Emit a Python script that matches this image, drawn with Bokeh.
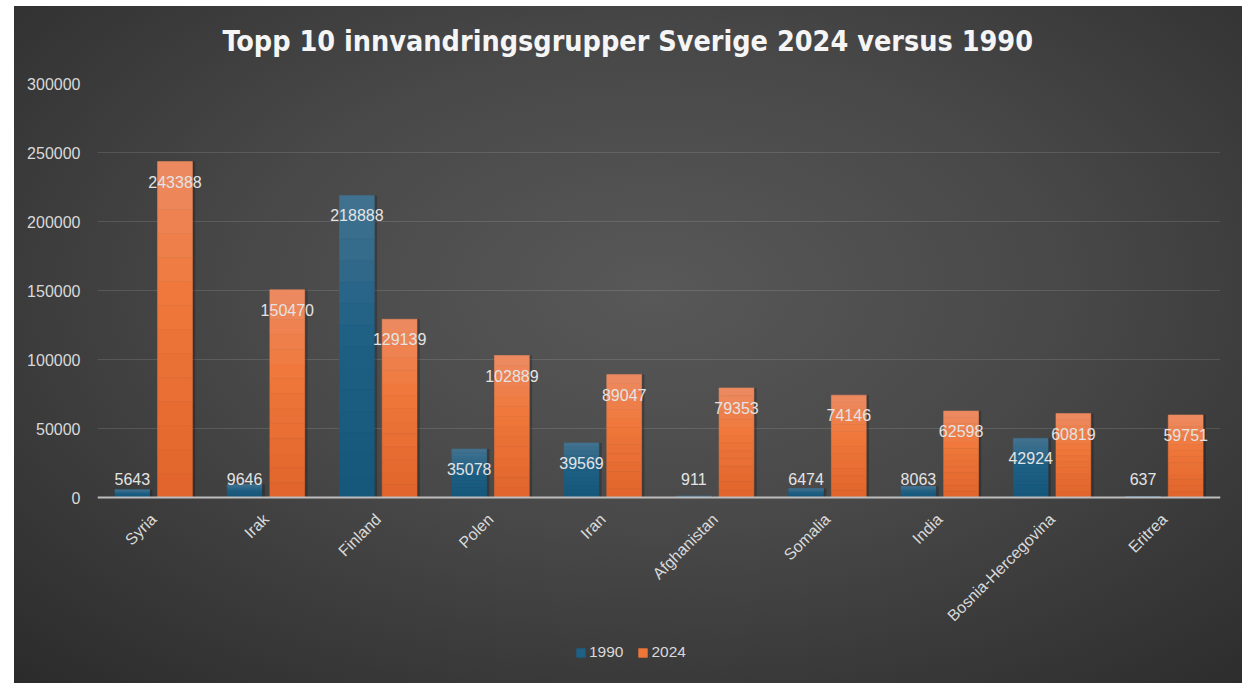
import numpy as np
from bokeh.plotting import figure
from bokeh.models import (ColumnDataSource, FactorRange, Legend, LegendItem,
                          FixedTicker, InlineStyleSheet, Span)
from bokeh.transform import dodge
from bokeh.core.properties import value
from bokeh.embed import file_html
from bokeh.resources import INLINE

categories = ["Syria", "Irak", "Finland", "Polen", "Iran", "Afghanistan",
              "Somalia", "India", "Bosnia-Hercegovina", "Eritrea"]
values_1990 = [5643, 9646, 218888, 35078, 39569, 911, 6474, 8063, 42924, 637]
values_2024 = [243388, 150470, 129139, 102889, 89047, 79353, 74146, 62598, 60819, 59751]
series_names = ["1990", "2024"]
y_ticks = [0, 50000, 100000, 150000, 200000, 250000, 300000]
title_text = "Topp 10 innvandringsgrupper Sverige 2024 versus 1990"

Y_MAX = 300000
PLOT_H = 414          # pixels from 0 to Y_MAX
FRAME_H = 597         # frame extends below zero to hold labels and legend
PX = Y_MAX / PLOT_H   # data units per pixel

p = figure(x_range=FactorRange(*categories), y_range=(-(FRAME_H - PLOT_H) * PX, Y_MAX),
           width=1253, height=692, output_backend="svg", toolbar_location=None,
           min_border_left=97, min_border_right=33, min_border_top=83,
           min_border_bottom=12)
p.frame_width = 1123
p.frame_height = FRAME_H
p.background_fill_color = None
p.border_fill_color = None
p.outline_line_color = None
p.stylesheets = [InlineStyleSheet(css=(
    ":host { background-color: #ffffff;"
    " background-image: radial-gradient(ellipse 75% 80% at 52% 42%, #585858 0%, #484848 45%, #2b2b2b 100%);"
    " background-size: 1228px 677px; background-position: 14px 6px; background-repeat: no-repeat; }"))]

p.title.text = title_text
p.title.align = "left"
p.title.offset = 125
p.title.vertical_align = "top"
p.title.standoff = 47
p.title.text_color = "#f5f5f5"
p.title.text_font = "DejaVu Sans Condensed"
p.title.text_font_style = "bold"
p.title.text_font_size = "28.5px"


def hex2rgb(h):
    h = h.lstrip("#")
    return np.array([int(h[i:i + 2], 16) for i in (0, 2, 4)], dtype=float)


def grad(stops, t):
    for (t0, c0), (t1, c1) in zip(stops[:-1], stops[1:]):
        if t0 <= t <= t1:
            f = (t - t0) / (t1 - t0) if t1 > t0 else 0
            c = hex2rgb(c0) * (1 - f) + hex2rgb(c1) * f
            return "#%02x%02x%02x" % tuple(int(round(x)) for x in c)
    return stops[-1][1]


blue_stops = [(0.0, "#15577b"), (0.55, "#1f6085"), (1.0, "#43728f")]
orange_stops = [(0.0, "#e0642b"), (0.6, "#f0783b"), (1.0, "#ec8b62")]

N = 14
offsets = [-0.19, 0.19]
bw = 0.31
legend_renderers = []
for vals, off, stops in [(values_1990, offsets[0], blue_stops),
                         (values_2024, offsets[1], orange_stops)]:
    sh = ColumnDataSource(dict(cat=categories, top=vals))
    p.vbar(x=dodge("cat", off + 0.025, range=p.x_range), top="top", bottom=0,
           width=bw, source=sh, fill_color="black", fill_alpha=0.22, line_color=None)
    mid = None
    for k in range(N):
        src = ColumnDataSource(dict(cat=categories,
                                    bottom=[v * k / N for v in vals],
                                    top=[v * (k + 1) / N for v in vals]))
        col = grad(stops, (k + 0.5) / N)
        r = p.vbar(x=dodge("cat", off, range=p.x_range), top="top", bottom="bottom",
                   width=bw, source=src, fill_color=col, line_color=col, line_width=0.6)
        if k == N // 2:
            mid = r
    legend_renderers.append(mid)

# baseline (category axis line)
p.add_layout(Span(location=0, dimension="width", line_color="#bdbdbd", line_width=2))

# data labels
for vals, off in [(values_1990, offsets[0]), (values_2024, offsets[1])]:
    ly = [max(v - 20 * PX, 19 * PX) for v in vals]
    src = ColumnDataSource(dict(cat=categories, y=ly, t=[str(v) for v in vals]))
    p.text(x=dodge("cat", off, range=p.x_range), y="y", text="t", source=src,
           text_align="center", text_baseline="middle", text_color="#e4e4e4",
           text_font=value("Liberation Sans"), text_font_size="16px")

# rotated category labels
cat_src = ColumnDataSource(dict(cat=categories, y=[0] * len(categories)))
p.text(x="cat", y="y", text="cat", source=cat_src, angle=np.pi / 4,
       text_align="right", text_baseline="middle", x_offset=0, y_offset=19,
       text_color="#d9d9d9", text_font=value("Liberation Sans"), text_font_size="16px")

# axes
p.xaxis.visible = False
p.yaxis.ticker = FixedTicker(ticks=y_ticks)
p.yaxis.formatter.use_scientific = False
p.yaxis.axis_line_color = None
p.yaxis.major_tick_line_color = None
p.yaxis.major_tick_out = 0
p.yaxis.minor_tick_line_color = None
p.yaxis.major_label_text_color = "#d9d9d9"
p.yaxis.major_label_text_font = "Liberation Sans"
p.yaxis.major_label_text_font_size = "16px"
p.yaxis.major_label_standoff = 17

p.xgrid.grid_line_color = None
p.ygrid.grid_line_color = "#ffffff"
p.ygrid.grid_line_alpha = 0.12
p.ygrid.grid_line_width = 1

legend = Legend(items=[LegendItem(label=series_names[0], renderers=[legend_renderers[0]]),
                       LegendItem(label=series_names[1], renderers=[legend_renderers[1]])],
                orientation="horizontal", location=(478, 19),
                background_fill_alpha=0, border_line_color=None,
                label_text_color="#d9d9d9", label_text_font="Liberation Sans",
                label_text_font_size="15.5px", glyph_width=11, glyph_height=11,
                label_standoff=3, spacing=14, padding=0, margin=0)
p.add_layout(legend, "center")

open("out.html", "w").write(file_html(p, INLINE))
